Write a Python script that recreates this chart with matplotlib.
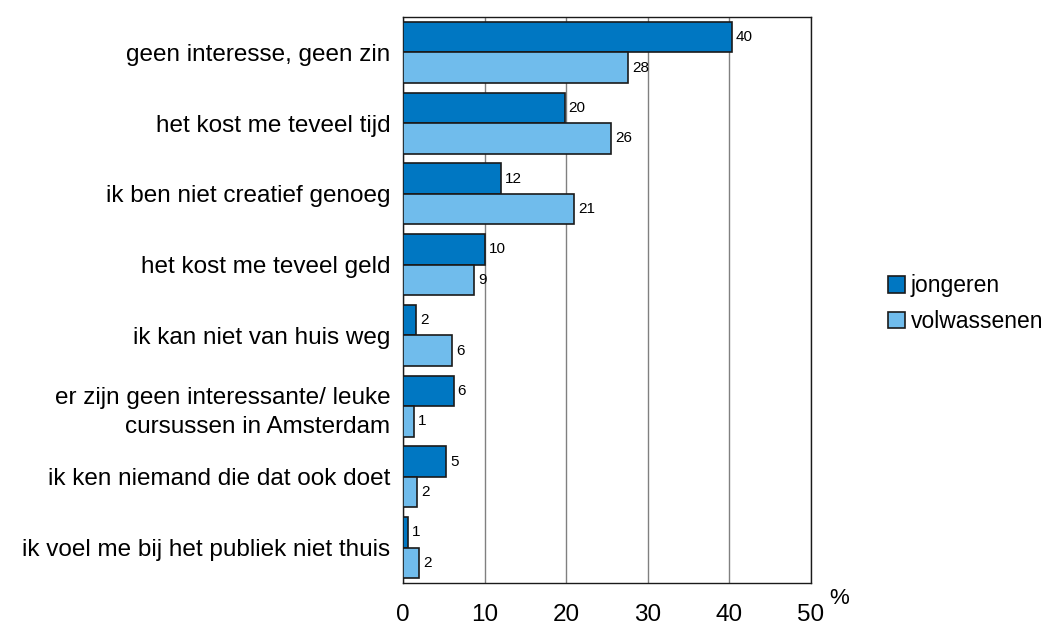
import matplotlib.pyplot as plt
import numpy as np

plt.rcParams['font.family'] = ['Liberation Sans', 'DejaVu Sans']

categories = ['geen interesse, geen zin', 'het kost me teveel tijd', 'ik ben niet creatief genoeg',
              'het kost me teveel geld', 'ik kan niet van huis weg',
              'er zijn geen interessante/ leuke\ncursussen in Amsterdam',
              'ik ken niemand die dat ook doet', 'ik voel me bij het publiek niet thuis']
jongeren = [40.3, 19.8, 12.0, 10.0, 1.6, 6.2, 5.3, 0.6]
volwassenen = [27.6, 25.5, 21.0, 8.7, 6.0, 1.3, 1.7, 2.0]
xticks = [0, 10, 20, 30, 40, 50]

fig = plt.figure(figsize=(10.5, 6.3), dpi=100)
ax = fig.add_axes([0.3838, 0.0746, 0.3886, 0.8984])

y = np.arange(len(categories))
h = 0.43
b1 = ax.barh(y - h / 2, jongeren, height=h, color='#0077C2', edgecolor='#1a1a1a', linewidth=1.2,
             label='jongeren', zorder=3)
b2 = ax.barh(y + h / 2, volwassenen, height=h, color='#70BCEC', edgecolor='#1a1a1a', linewidth=1.2,
             label='volwassenen', zorder=3)

for bars, vals in [(b1, jongeren), (b2, volwassenen)]:
    for bar, v in zip(bars, vals):
        ax.text(bar.get_width() + 0.5, bar.get_y() + bar.get_height() / 2, f'{v:.0f}',
                va='center', ha='left', fontsize=11)

ax.set_ylim(len(categories) - 0.5, -0.5)
ax.set_yticks(y)
ax.set_yticklabels(categories, fontsize=17.5, linespacing=1.45)
ax.set_xlim(0, 50)
ax.set_xticks(xticks)
ax.set_xticklabels([str(t) for t in xticks], fontsize=17.5)
ax.tick_params(axis='both', length=0)
ax.tick_params(axis='x', pad=15)
ax.tick_params(axis='y', pad=9)
ax.grid(axis='x', color='#808080', linewidth=1, zorder=0)
for s in ax.spines.values():
    s.set_color('#1a1a1a')
    s.set_linewidth(1)

ax.text(1.068, -0.027, '%', transform=ax.transAxes, fontsize=16, ha='center', va='center')

fig.legend(loc='center left', bbox_to_anchor=(0.826, 0.518), frameon=False, fontsize=16.5,
           handlelength=0.75, handleheight=0.75, handletextpad=0.25, labelspacing=0.55)

fig.savefig('out.png', dpi=100)
